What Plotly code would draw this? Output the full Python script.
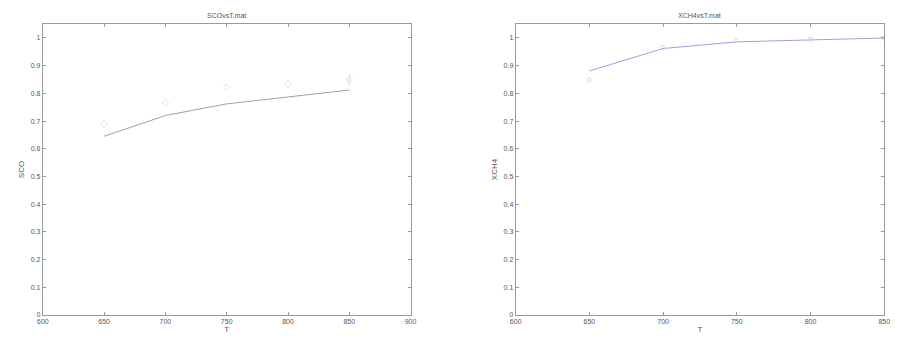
import plotly.graph_objects as go

T = [650, 700, 750, 800, 850]
sco_fit = [0.645, 0.72, 0.762, 0.787, 0.812]
sco_meas = [0.69, 0.766, 0.821, 0.835, 0.849]
sco_err = [0, 0, 0, 0, 0.02]
xch4_fit = [0.881, 0.962, 0.986, 0.994, 1.0]
xch4_meas = [0.849, 0.965, 0.99, 0.995, 1.0]

left_xticks = [600, 650, 700, 750, 800, 850, 900]
right_xticks = [600, 650, 700, 750, 800, 850]
yticks = [0, 0.1, 0.2, 0.3, 0.4, 0.5, 0.6, 0.7, 0.8, 0.9, 1]

fig = go.Figure()
fig.add_trace(go.Scatter(x=T, y=sco_fit, mode="lines", line=dict(color="#a0a0a0", width=1),
                         xaxis="x", yaxis="y", showlegend=False))
fig.add_trace(go.Scatter(x=T, y=sco_meas, mode="markers",
                         marker=dict(symbol="diamond-open", size=5, color="#e4e4e4", line=dict(width=1)),
                         error_y=dict(type="data", array=sco_err, color="#d8d8d8", thickness=1, width=0),
                         xaxis="x", yaxis="y", showlegend=False))
fig.add_trace(go.Scatter(x=T, y=xch4_fit, mode="lines", line=dict(color="#9e9ee8", width=1),
                         xaxis="x2", yaxis="y2", showlegend=False))
fig.add_trace(go.Scatter(x=T, y=xch4_meas, mode="markers",
                         marker=dict(symbol="circle-open", size=4, color="#d4d4e0", line=dict(width=1)),
                         xaxis="x2", yaxis="y2", showlegend=False))

font = dict(family="Liberation Sans", size=7, color="#555555")
axcommon = dict(showgrid=False, zeroline=False, showline=True, linecolor="#9a9a9a", linewidth=1,
                mirror="ticks", ticks="inside", ticklen=3, tickcolor="#9a9a9a", tickfont=font)

fig.update_layout(
    width=900, height=343, margin=dict(l=0, r=0, t=0, b=0),
    paper_bgcolor="white", plot_bgcolor="white",
    xaxis=dict(domain=[0.0415, 0.4556], range=[600, 900], tickvals=left_xticks,
               title=dict(text="T", font=dict(family="Liberation Sans", size=8, color="#555"), standoff=2),
               anchor="y", **axcommon),
    yaxis=dict(domain=[0.0738, 0.929], range=[0, 1.05], tickvals=yticks,
               title=dict(text="SCO", font=dict(family="Liberation Sans", size=8, color="#555"), standoff=4),
               anchor="x", **axcommon),
    xaxis2=dict(domain=[0.574, 0.989], range=[600, 850], tickvals=right_xticks,
                title=dict(text="T", font=dict(family="Liberation Sans", size=8, color="#555"), standoff=2),
                anchor="y2", **axcommon),
    yaxis2=dict(domain=[0.0738, 0.929], range=[0, 1.05], tickvals=yticks,
                title=dict(text="XCH4", font=dict(family="Liberation Sans", size=8, color="#555"), standoff=4),
                anchor="x2", **axcommon),
    annotations=[
        dict(text="SCOvsT.mat", x=(0.0415 + 0.4556) / 2, y=0.929, xref="paper", yref="paper",
             xanchor="center", yanchor="bottom", yshift=3, showarrow=False, font=font),
        dict(text="XCH4vsT.mat", x=(0.574 + 0.989) / 2, y=0.929, xref="paper", yref="paper",
             xanchor="center", yanchor="bottom", yshift=3, showarrow=False, font=font),
    ],
)

fig.write_html("out.html", config={"displayModeBar": False},
               post_script="document.body.style.margin='0';document.body.style.overflow='hidden';")
